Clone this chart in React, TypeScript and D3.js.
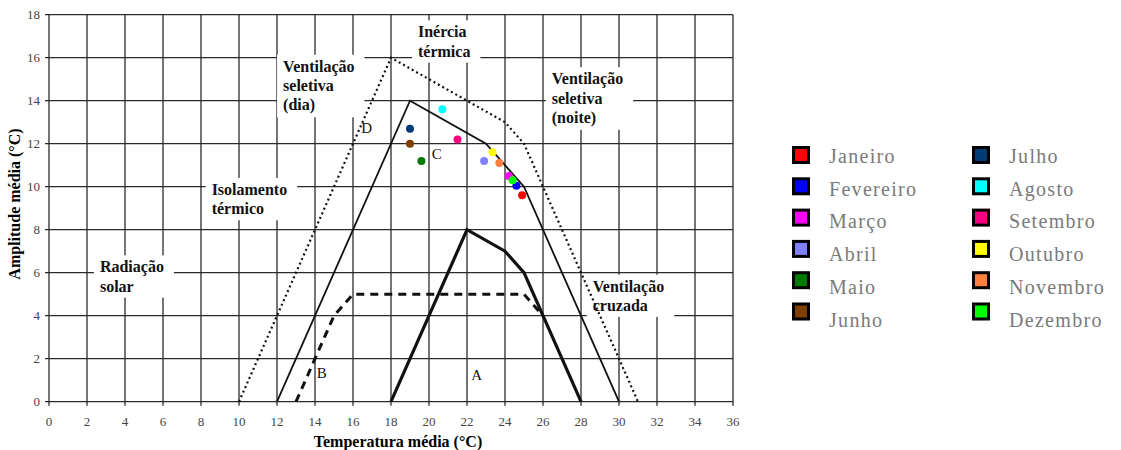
import React, {useRef, useEffect} from "react";
import * as d3 from "d3";

// zone boundaries (temperatura média, amplitude média)
const outerDotted = [[10, 0], [18, 16], [24, 13], [25, 12], [31, 0]];
const middleSolid = [[12, 0], [19, 14], [23, 12], [25, 10], [30, 0]];
const comfortA = [[18, 0], [22, 8], [24, 7], [25, 6], [28, 0]];
const dashedB = [[13, 0], [14, 2], [15, 4], [16, 5], [25, 5], [26, 4]];

const months = ["Janeiro", "Fevereiro", "Março", "Abril", "Maio", "Junho",
	"Julho", "Agosto", "Setembro", "Outubro", "Novembro", "Dezembro"];
const monthColors = ["#ff0000", "#0000ff", "#ff00ff", "#8080ff", "#007a00", "#7f3f00",
	"#003b78", "#00ffff", "#ff0080", "#ffff00", "#ff8040", "#00ff00"];
const monthTemp = [24.9, 24.6, 24.2, 22.9, 19.6, 19.0, 19.0, 20.7, 21.5, 23.35, 23.7, 24.4];
const monthAmp = [9.6, 10.05, 10.5, 11.2, 11.2, 12.0, 12.7, 13.6, 12.2, 11.6, 11.1, 10.3];

const xTicks = d3.range(0, 37, 2);
const yTicks = d3.range(0, 19, 2);

// zone names: text lines, anchor (data units, first line)
const zoneText = [["Inércia", "térmica"], ["Ventilação", "seletiva", "(dia)"],
	["Ventilação", "seletiva", "(noite)"], ["Isolamento", "térmico"],
	["Radiação", "solar"], ["Ventilação", "cruzada"]];
const zoneX = [19.42, 12.32, 26.46, 8.56, 2.68, 28.62];
const zoneY = [17.18, 15.58, 15.0, 9.85, 6.25, 5.35];

const letters = ["D", "C", "B", "A"];
const letterX = [16.72, 20.41, 14.35, 22.51];
const letterY = [12.74, 11.52, 1.32, 1.24];

export default function App() {

	const ref = useRef(null);

	let layout = {"width": 1121, "height": 450,
				  "left": 49, "right": 733, "top": 14.7, "bottom": 401.7};

	useEffect(() => {

		let svg = d3.select(ref.current);
		svg.selectAll("*").remove();

		let x = d3.scaleLinear().domain([0, 36]).range([layout.left, layout.right]);
		let y = d3.scaleLinear().domain([0, 18]).range([layout.bottom, layout.top]);

		let serif = "'Liberation Serif', 'Times New Roman', serif";

		// grid
		let grid = svg.append("g").attr("stroke", "#2a2a2a").attr("stroke-width", 1.3);
		grid.selectAll(".vx").data(xTicks).join("line")
			.attr("x1", d => x(d)).attr("x2", d => x(d))
			.attr("y1", y(18)).attr("y2", y(0) + 4);
		grid.selectAll(".hy").data(yTicks).join("line")
			.attr("x1", x(0) - 4).attr("x2", x(36))
			.attr("y1", d => y(d)).attr("y2", d => y(d));

		// tick labels
		svg.append("g").selectAll("text").data(xTicks).join("text")
			.attr("x", d => x(d)).attr("y", y(0) + 24)
			.attr("text-anchor", "middle")
			.attr("font-family", serif).attr("font-size", 13).attr("fill", "#444")
			.text(d => d);
		svg.append("g").selectAll("text").data(yTicks).join("text")
			.attr("x", x(0) - 9).attr("y", d => y(d) + 4.5)
			.attr("text-anchor", "end")
			.attr("font-family", serif).attr("font-size", 13).attr("fill", "#444")
			.text(d => d);

		// axis titles
		svg.append("text")
			.attr("x", 398).attr("y", 447)
			.attr("text-anchor", "middle")
			.attr("font-family", serif).attr("font-weight", "bold").attr("font-size", 16)
			.text("Temperatura média (°C)");
		svg.append("text")
			.attr("transform", "translate(20, 204) rotate(-90)")
			.attr("text-anchor", "middle")
			.attr("font-family", serif).attr("font-weight", "bold").attr("font-size", 16)
			.text("Amplitude média (°C)");

		// zone labels with white backing
		let zones = svg.append("g");
		zoneText.forEach((lines, i) => {
			let g = zones.append("g");
			let bg = g.append("rect").attr("fill", "white");
			let t = g.append("text")
				.attr("font-family", serif).attr("font-weight", "bold").attr("font-size", 16)
				.attr("fill", "#111");
			lines.forEach((l, j) => {
				t.append("tspan")
					.attr("x", x(zoneX[i]))
					.attr("y", y(zoneY[i]) + 5 + j * 19.3)
					.text(l);
			});
			let bb = t.node().getBBox();
			bg.attr("x", bb.x - 6).attr("y", bb.y - 3)
			  .attr("width", bb.width + 16).attr("height", bb.height + 6);
		});

		let line = d3.line().x(d => x(d[0])).y(d => y(d[1]));

		svg.append("path").datum(outerDotted)
			.attr("d", line).attr("fill", "none")
			.attr("stroke", "#111").attr("stroke-width", 2.2)
			.attr("stroke-dasharray", "2,3");
		svg.append("path").datum(middleSolid)
			.attr("d", line).attr("fill", "none")
			.attr("stroke", "#111").attr("stroke-width", 1.8);
		svg.append("path").datum(comfortA)
			.attr("d", line).attr("fill", "none")
			.attr("stroke", "#111").attr("stroke-width", 3.2);
		svg.append("path").datum(dashedB)
			.attr("d", line).attr("fill", "none")
			.attr("stroke", "#111").attr("stroke-width", 3)
			.attr("stroke-dasharray", "8,6");

		// region letters
		svg.append("g").selectAll("text").data(letters).join("text")
			.attr("x", (d, i) => x(letterX[i])).attr("y", (d, i) => y(letterY[i]) + 5)
			.attr("text-anchor", "middle")
			.attr("font-family", serif).attr("font-size", 15).attr("fill", "#111")
			.text(d => d);

		// monthly points
		svg.append("g").selectAll("circle").data(months).join("circle")
			.attr("cx", (d, i) => x(monthTemp[i]))
			.attr("cy", (d, i) => y(monthAmp[i]))
			.attr("r", 4)
			.attr("fill", (d, i) => monthColors[i]);

		// legend
		let legend = svg.append("g");
		months.forEach((m, i) => {
			let col = Math.floor(i / 6);
			let row = i % 6;
			let sx = col === 0 ? 801 : 981;
			let tx = col === 0 ? 829 : 1009;
			legend.append("rect")
				.attr("x", sx - 7.5).attr("y", 155 + row * 31.3 - 7.5)
				.attr("width", 15).attr("height", 15)
				.attr("fill", monthColors[i])
				.attr("stroke", "#000").attr("stroke-width", 3);
			legend.append("text")
				.attr("x", tx).attr("y", 163 + row * 32.7)
				.attr("font-family", serif).attr("font-size", 20)
				.attr("letter-spacing", 1.3)
				.attr("fill", "#7a7a7a")
				.text(m);
		});

	}, [])

	return (
		<div style={{position: "absolute", left: 0, top: 0}}>
			<svg ref={ref} width={layout.width} height={layout.height}
				 style={{display: "block", background: "white"}} />
		</div>
	)
}
